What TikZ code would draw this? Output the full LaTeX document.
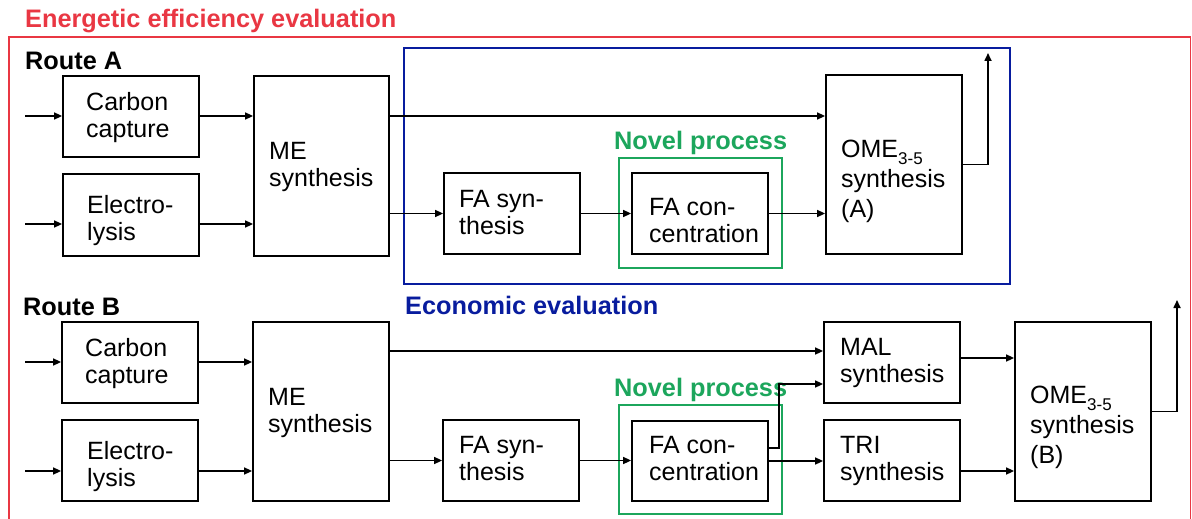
\documentclass[tikz,border=0pt]{standalone}
\usepackage{fontspec}
\setmainfont{Liberation Sans}
\usetikzlibrary{arrows.meta,calc}
\definecolor{evred}{RGB}{233,55,67}
\definecolor{evblue}{RGB}{8,28,158}
\definecolor{evgreen}{RGB}{28,166,92}
\tikzset{
  box/.style={draw=black, line width=1.8pt, inner sep=0pt, rectangle},
  sz/.style 2 args={minimum width=#1, minimum height=#2},
  lbl/.style={anchor=north west, inner sep=0pt, align=left, font=\fontsize{25}{27}\selectfont},
  omelbl/.style={lbl, font=\fontsize{25}{30}\selectfont},
  head/.style={anchor=base west, inner sep=0pt, font=\bfseries\fontsize{25.3}{27}\selectfont},
  flow/.style={line width=1.6pt, -{Triangle[length=8pt,width=7pt]}},
  frame/.style={line width=2.2pt},
}
\newcommand{\subfive}{\raisebox{-7pt}{\fontsize{17}{17}\selectfont 3-5}}
\begin{document}
\begin{tikzpicture}[x=1pt,y=-1pt]
\useasboundingbox (0,0) rectangle (1192,519);
% frames
\begin{scope}
  \clip (0,0) rectangle (1192,519);
  \draw[evred, line width=1.8pt] (9,540) -- (9,37) -- (1190.5,37) -- (1190.5,540);
\end{scope}
\draw[evblue, frame] (404,48) rectangle (1010,284);
\draw[evgreen, frame] (619,158) rectangle (782,268);
\draw[evgreen, frame] (619,405) rectangle (782,514);

% headings
\node[head, text=evred] (title) at (25,28) {Energetic efficiency evaluation};
\node[head] (routeA) at (25,70) {Route A};
\node[head] (routeB) at (23,315) {Route B};
\node[head, text=evblue] (econ) at (405,314) {Economic evaluation};
\node[head, text=evgreen] (novA) at (614,149) {Novel process};
\node[head, text=evgreen] (novB) at (614,396) {Novel process};

% Route A boxes
\node[box, sz={136pt}{81pt}] (ccA) at (131,116.5) {};
\node[box, sz={136pt}{82pt}] (elA) at (131,215) {};
\node[box, sz={135pt}{180pt}] (meA) at (321.5,166) {};
\node[box, sz={136pt}{81pt}] (faA) at (512,213.5) {};
\node[box, sz={136pt}{81pt}] (fcA) at (700,213.5) {};
\node[box, sz={136pt}{179pt}] (omeA) at (894,164.5) {};
% Route B boxes
\node[box, sz={136pt}{81pt}] (ccB) at (130,362.5) {};
\node[box, sz={136pt}{81pt}] (elB) at (130,460.5) {};
\node[box, sz={136pt}{179pt}] (meB) at (321,411.5) {};
\node[box, sz={136pt}{81pt}] (faB) at (511,460.5) {};
\node[box, sz={136pt}{80pt}] (fcB) at (700,461) {};
\node[box, sz={136pt}{81pt}] (malB) at (892,362.5) {};
\node[box, sz={136pt}{81pt}] (triB) at (892,460.5) {};
\node[box, sz={136pt}{179pt}] (omeB) at (1083,411.5) {};

% box texts
\node[lbl] (ccAt) at (86,91.1) {\strut Carbon\\capture};
\node[lbl] (elAt) at (87,194.1) {\strut Electro-\\lysis};
\node[lbl] (meAt) at (269,140.1) {\strut ME\\synthesis};
\node[lbl] (faAt) at (459,188.1) {\strut FA syn-\\thesis};
\node[lbl] (fcAt) at (649,196.1) {\strut FA con-\\centration};
\node[omelbl] (omeAt) at (841,136) {\strut OME\subfive\\synthesis\\(A)};
\node[lbl] (ccBt) at (85,337.1) {\strut Carbon\\capture};
\node[lbl] (elBt) at (87,440.1) {\strut Electro-\\lysis};
\node[lbl] (meBt) at (268,386.1) {\strut ME\\synthesis};
\node[lbl] (faBt) at (459,434.1) {\strut FA syn-\\thesis};
\node[lbl] (fcBt) at (649,434.1) {\strut FA con-\\centration};
\node[lbl] (malBt) at (840,336.1) {\strut MAL\\synthesis};
\node[lbl] (triBt) at (840,434.1) {\strut TRI\\synthesis};
\node[omelbl] (omeBt) at (1030,382) {\strut OME\subfive\\synthesis\\(B)};

% connectors Route A
\coordinate (inCCA) at (25,116);
\coordinate (inElA) at (25,224);
\coordinate (outA) at (988,53);
\draw[flow] (inCCA) -- (inCCA -| ccA.west);
\draw[flow] (inCCA -| ccA.east) -- (inCCA -| meA.west);
\draw[flow] (inElA) -- (inElA -| elA.west);
\draw[flow] (inElA -| elA.east) -- (inElA -| meA.west);
\draw[flow] (inCCA -| meA.east) -- (inCCA -| omeA.west);
\draw[flow] (meA.east |- faA.west) -- (faA.west);
\draw[flow] (faA.east) -- (fcA.west);
\draw[flow] (fcA.east) -- (fcA.east -| omeA.west);
\draw[flow] (omeA.east) -| (outA);

% connectors Route B
\coordinate (inCCB) at (25,362);
\coordinate (inElB) at (25,471);
\coordinate (outB) at (1177,300);
\coordinate (malIn1) at ([yshift=11.5pt]malB.west);
\coordinate (malIn2) at ([yshift=-21.5pt]malB.west);
\coordinate (fcOut) at ([yshift=13pt]fcB.east);
\coordinate (malOut) at ([yshift=4.5pt]malB.east);
\coordinate (triOut) at ([yshift=-10.5pt]triB.east);
\draw[flow] (inCCB) -- (inCCB -| ccB.west);
\draw[flow] (inCCB -| ccB.east) -- (inCCB -| meB.west);
\draw[flow] (inElB) -- (inElB -| elB.west);
\draw[flow] (inElB -| elB.east) -- (inElB -| meB.west);
\draw[flow] (malIn1 -| meB.east) -- (malIn1);
\draw[flow] (meB.east |- faB.west) -- (faB.west);
\draw[flow] (faB.east) -- (faB.east -| fcB.west);
\draw[flow] (fcB.east) -- (fcB.east -| triB.west);
\draw[flow] (fcOut) -- ++(10,0) |- (malIn2);
\draw[flow] (malOut) -- (malOut -| omeB.west);
\draw[flow] (triOut) -- (triOut -| omeB.west);
\draw[flow] (omeB.east) -| (outB);
\end{tikzpicture}
\end{document}
